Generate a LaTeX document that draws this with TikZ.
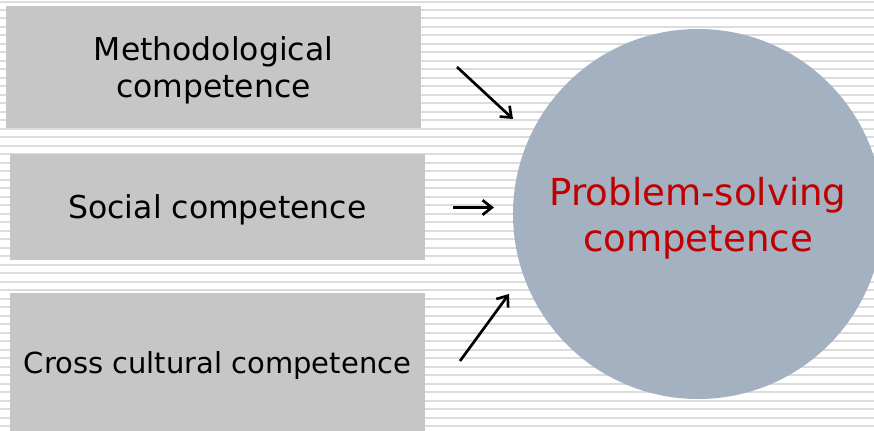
\documentclass[tikz,border=0pt]{standalone}
\usepackage{fontspec}
\setmainfont{DejaVu Sans}
\usetikzlibrary{arrows.meta}
\definecolor{boxgray}{HTML}{C6C6C6}
\definecolor{stripegray}{HTML}{DCDCDC}
\definecolor{ballblue}{HTML}{A3B1C0}
\definecolor{psred}{HTML}{C00000}
\tikzset{
	compbox/.style={fill=boxgray, minimum width=311.25pt, minimum height=#1, inner sep=0pt, align=center, text depth=0pt, font=\fontsize{23.6pt}{27.75pt}\selectfont},
	ball/.style={circle, fill=ballblue, minimum size=277.5pt, inner sep=0pt, align=center, text depth=-2pt, text=psred, font=\fontsize{27.85pt}{34.5pt}\selectfont},
	feed/.style={line width=2pt, -{Straight Barb[length=7pt,width=11pt]}}
}

\begin{document}
\begin{tikzpicture}[x=0.75pt, y=-0.75pt]
			%%%%% START %%%%%
			
			\useasboundingbox (0, 0) rectangle (874, 430);
			\clip (0, 0) rectangle (874, 430);
			\fill[white] (0, 0) rectangle (874, 430);
			
			% striped background
			\foreach \k in {0,...,50}
				\fill[stripegray] (0, {0.5+8.49*\k}) rectangle (874, {2.5+8.49*\k});
			
			% the three competences
			\node[compbox=91.5pt] (meth) at (213.5, 67) {Methodological\\competence};
			\node[compbox=79.5pt] (soc) at (217.5, 207) {Social competence};
			\node[compbox=103.5pt, font=\fontsize{21.75pt}{26pt}\selectfont] (cross) at (217.5, 362) {Cross cultural competence};
			
			\node[ball] (prob) at (698, 214) {Problem-solving\\competence};
			
			\coordinate (meth-out) at (457, 67);
			\coordinate (meth-in) at (513, 119);
			\coordinate (soc-out) at (453, 207.5);
			\coordinate (soc-in) at (494, 207.5);
			\coordinate (cross-out) at (460, 361);
			\coordinate (cross-in) at (509, 294);
			
			\draw[feed] (meth-out) -- (meth-in);
			\draw[feed] (soc-out) -- (soc-in);
			\draw[feed] (cross-out) -- (cross-in);
			
			%%%%% END %%%%%
		\end{tikzpicture}
\end{document}
